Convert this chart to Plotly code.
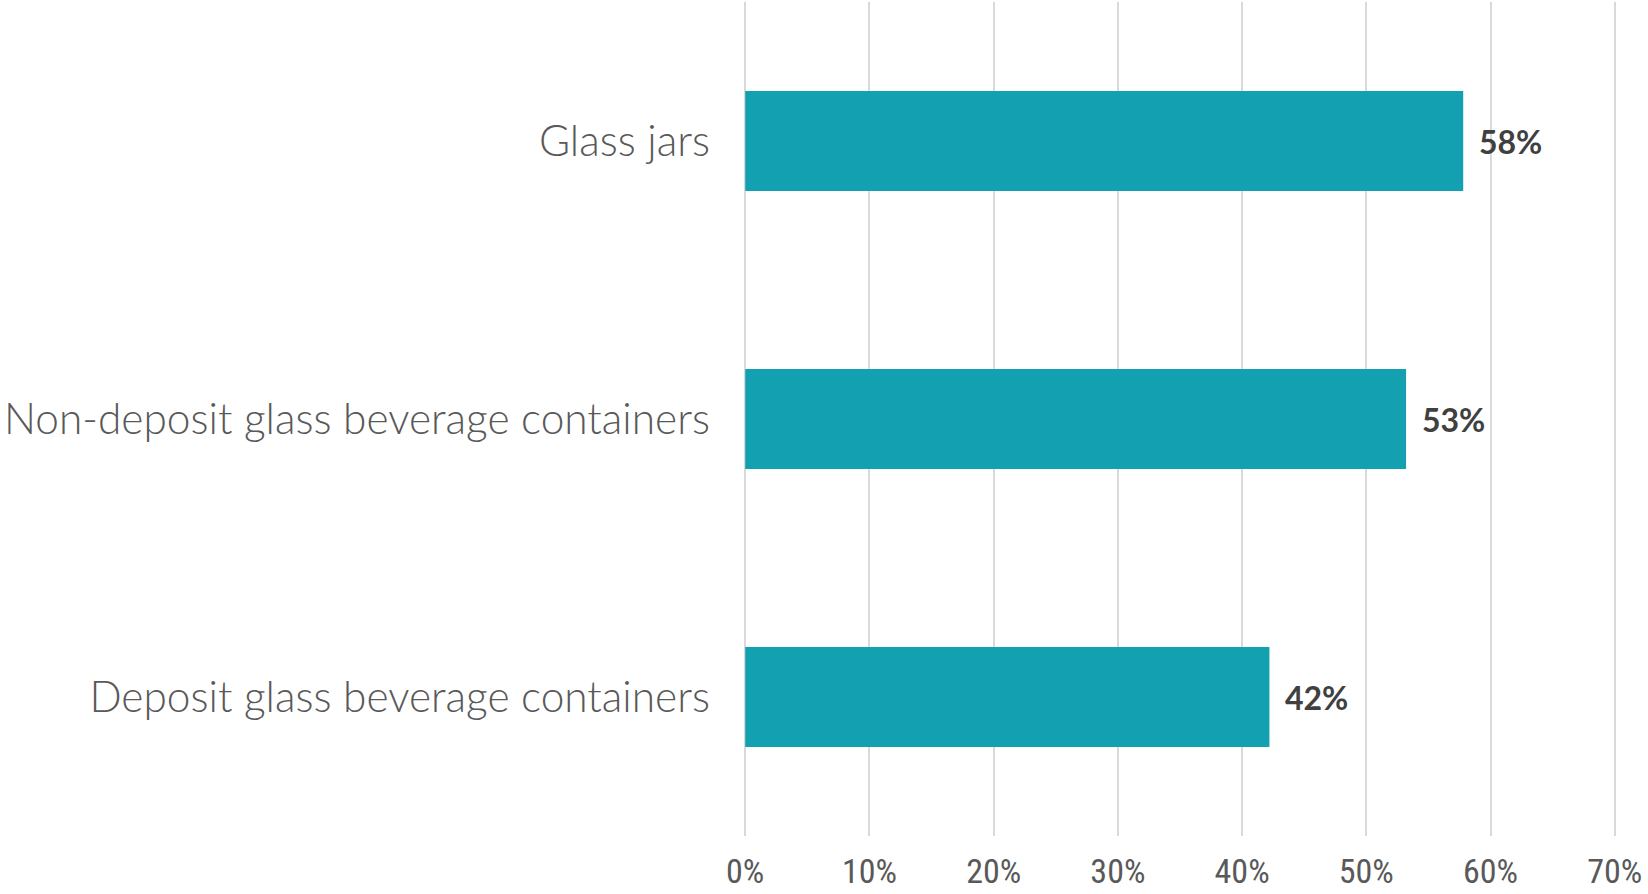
import plotly.graph_objects as go

categories = ["Deposit glass beverage containers", "Non-deposit glass beverage containers", "Glass jars"]
values = [42.2, 53.2, 57.8]
labels = ["42%", "53%", "58%"]
tick_vals = [0, 10, 20, 30, 40, 50, 60, 70]
tick_text = ["0%", "10%", "20%", "30%", "40%", "50%", "60%", "70%"]

fig = go.Figure()
fig.add_trace(go.Bar(
    y=categories, x=values, orientation="h",
    marker=dict(color="#13A0B0", line=dict(width=0)),
    hoverinfo="skip",
))
for c, v, t in zip(categories, values, labels):
    fig.add_annotation(x=v, y=c, text="<b>%s</b>" % t, showarrow=False,
                       xanchor="left", xshift=14,
                       font=dict(family="Lato, Century Gothic, sans-serif", size=32, color="#404040"))

fig.update_layout(
    width=1648, height=894,
    margin=dict(l=744, r=32, t=2, b=58),
    paper_bgcolor="white", plot_bgcolor="white",
    bargap=0.64,
    showlegend=False,
    xaxis=dict(range=[-0.1, 70.1], tickvals=tick_vals, ticktext=tick_text,
               showgrid=True, gridcolor="#d9d9d9", gridwidth=1.5,
               zeroline=False, showline=False, ticks="",
               automargin=False, ticklabeloverflow="allow",
               ticklabelstandoff=12,
               tickfont=dict(family="Liberation Sans Narrow, Roboto Condensed, sans-serif", size=34, color="#595959")),
    yaxis=dict(showgrid=False, zeroline=False, showline=False, ticks="",
               automargin=False,
               ticklabelstandoff=33,
               tickfont=dict(family="Lato, Century Gothic, sans-serif", size=42.4, color="#595959", weight=300)),
)
fig.write_html("out.html", config={"displayModeBar": False},
               post_script="document.body.style.margin='0';document.body.style.overflow='hidden';")
